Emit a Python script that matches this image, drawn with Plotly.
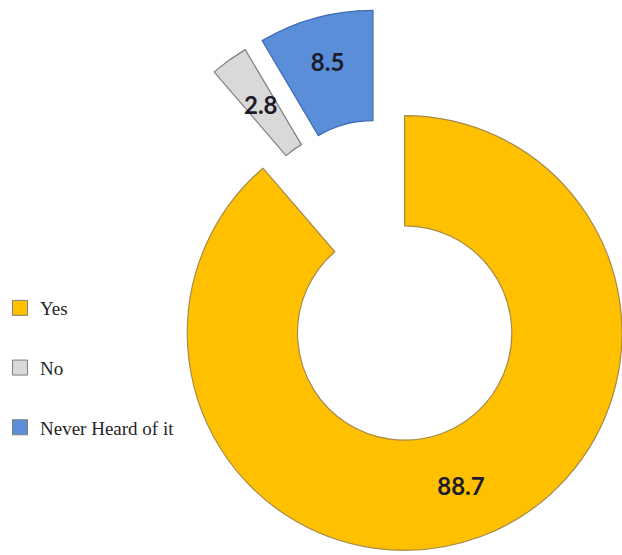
import math
import plotly.graph_objects as go

# Survey answers and their shares (%)
labels = ["Yes", "No", "Never Heard of it"]
values = [88.7, 2.8, 8.5]
colors = ["#FFC000", "#D9D9D9", "#5B8ED8"]
edge_colors = ["#A88A4A", "#7F7F7F", "#3F6DB5"]

W, H = 622, 555
HALF_W = 0.35          # pie box half-width (paper fraction)
HALF_H = HALF_W * W / H

# Centre of each drawn ring (px from top-left): the main ring, then the two
# exploded slices, each drawn as its own ring shifted outward.
centres = {
    "Yes": (405, 333),
    "No": (356, 237),
    "Never Heard of it": (373, 228),
}

fig = go.Figure()

for lab in labels:
    cx, cy = centres[lab]
    xc, yc = cx / W, 1 - cy / H
    slice_colors = [c if l == lab else "rgba(0,0,0,0)" for l, c in zip(labels, colors)]
    line_colors = [c if l == lab else "rgba(0,0,0,0)" for l, c in zip(labels, edge_colors)]
    show_text = lab != "No"
    texts = [f"{v}" if (l == lab and show_text) else "" for l, v in zip(labels, values)]
    fig.add_trace(go.Pie(
        labels=labels,
        values=values,
        sort=False,
        direction="clockwise",
        rotation=0,
        hole=0.493,
        marker=dict(colors=slice_colors, line=dict(color=line_colors, width=1.2)),
        text=texts,
        textinfo="text",
        textposition="inside",
        insidetextorientation="horizontal",
        insidetextfont=dict(family="Lato", size=24, color="#1C1C2A", weight="bold"),
        domain=dict(x=[max(0, xc - HALF_W), min(1, xc + HALF_W)],
                    y=[max(0, yc - HALF_H), min(1, yc + HALF_H)]),
        showlegend=False,
        hoverinfo="skip",
    ))

# The thin "No" slice cannot hold its label at full size, so place it at the
# slice's mid-angle and mid-radius.
start = sum(values[:1]) / sum(values) * 360
mid_angle = math.radians(start + values[1] / sum(values) * 360 / 2)
r_px = HALF_W * W
r_mid = r_px * (1 + 0.493) / 2
cx, cy = centres["No"]
lx = cx + r_mid * math.sin(mid_angle)
ly = cy - r_mid * math.cos(mid_angle)
fig.add_annotation(
    x=lx / W, y=1 - ly / H, xref="paper", yref="paper",
    xanchor="center", yanchor="middle",
    text=f"{values[1]}", showarrow=False,
    font=dict(family="Lato", size=24, color="#1C1C2A", weight="bold"),
)

# Legend entries
for i, (lab, c) in enumerate(zip(labels, colors)):
    fig.add_trace(go.Scatter(
        x=[None], y=[None], mode="markers", name=lab,
        legendgroup=f"g{i}",
        marker=dict(symbol="square", size=15, color=c,
                    line=dict(color="#7F7F7F", width=1)),
    ))

fig.update_layout(
    width=W, height=H,
    margin=dict(l=0, r=0, t=0, b=0),
    paper_bgcolor="white",
    plot_bgcolor="white",
    xaxis=dict(visible=False),
    yaxis=dict(visible=False),
    legend=dict(
        x=0, y=1 - 368 / H, xanchor="left", yanchor="middle",
        traceorder="grouped", tracegroupgap=32,
        font=dict(family="Liberation Serif", size=19, color="#262626"),
        bgcolor="rgba(0,0,0,0)",
    ),
)

fig.write_html("out.html")
